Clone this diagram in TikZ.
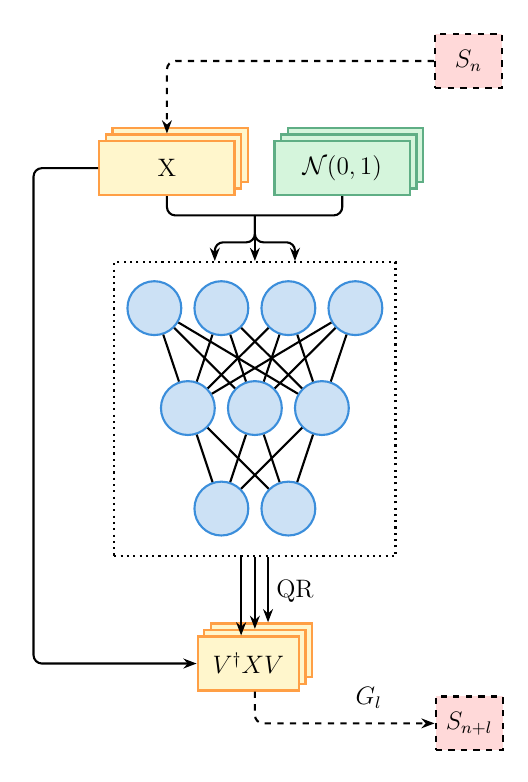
\documentclass[tikz,border=0pt,12pt]{standalone}
\usepackage{amsmath,amssymb}
\usepackage{xcolor}
\usepackage{tikz}
\usetikzlibrary{arrows.meta, positioning, calc, shadows}

\definecolor{matfill}{HTML}{FFF6CC}
\definecolor{matline}{HTML}{FF9F45}
\definecolor{noisefill}{HTML}{D5F5DC}
\definecolor{noiseline}{HTML}{5FAE85}
\definecolor{statefill}{HTML}{FFD9D9}
\definecolor{neuronfill}{HTML}{CCE1F5}
\definecolor{neuronline}{HTML}{3B8EDB}

\begin{document}
\begin{tikzpicture}[
    mat/.style={draw=matline, fill=matfill, line width=1.1pt, rectangle, minimum width=2.26cm, minimum height=0.9cm, double copy shadow={shadow xshift=0.11cm, shadow yshift=0.11cm, line width=1.1pt}},
    noise/.style={mat, draw=noiseline, fill=noisefill},
    state/.style={draw, dashed, line width=1pt, rectangle, fill=statefill, minimum width=1.12cm, minimum height=0.9cm},
    neuron/.style={circle, draw=neuronline, fill=neuronfill, line width=1pt, minimum size=0.9cm},
    edge/.style={line width=1pt},
    arr/.style={-{Stealth[length=2.2mm]}, line width=1pt},
    darr/.style={arr, dashed}
]
\useasboundingbox (0, 0) rectangle (8.81, -13.07);
\node[state] (Sn) at (7.83, -1.02) {$S_n$};
\node[mat] (X) at (2.79, -2.81) {X};
\node[noise] (N) at (5.72, -2.81) {$\mathcal{N}(0,1)$};
\node[draw, dotted, line width=1pt, minimum width=4.70cm, minimum height=4.92cm] (net) at (4.26, -6.84) {};
% input layer
\node[neuron] (a1) at (2.58, -5.15) {};
\node[neuron] (a2) at (3.70, -5.15) {};
\node[neuron] (a3) at (4.82, -5.15) {};
\node[neuron] (a4) at (5.94, -5.15) {};
% hidden layer
\node[neuron] (b1) at (3.14, -6.82) {};
\node[neuron] (b2) at (4.26, -6.82) {};
\node[neuron] (b3) at (5.38, -6.82) {};
% output layer
\node[neuron] (c1) at (3.70, -8.50) {};
\node[neuron] (c2) at (4.82, -8.50) {};
\node[mat, minimum width=1.69cm] (V) at (4.15, -11.09) {$V^\dagger XV$};
\node[state] (Snl) at (7.84, -12.09) {$S_{n+l}$};
\coordinate (join) at (4.26, -3.60);
\coordinate (fork) at (4.26, -4.05);
\draw[edge] (a1) -- (b1);
\draw[edge] (a1) -- (b2);
\draw[edge] (a1) -- (b3);
\draw[edge] (a2) -- (b1);
\draw[edge] (a2) -- (b2);
\draw[edge] (a2) -- (b3);
\draw[edge] (a3) -- (b1);
\draw[edge] (a3) -- (b2);
\draw[edge] (a3) -- (b3);
\draw[edge] (a4) -- (b1);
\draw[edge] (a4) -- (b2);
\draw[edge] (a4) -- (b3);
\draw[edge] (b1) -- (c1);
\draw[edge] (b1) -- (c2);
\draw[edge] (b2) -- (c1);
\draw[edge] (b2) -- (c2);
\draw[edge] (b3) -- (c1);
\draw[edge] (b3) -- (c2);
\draw[darr, rounded corners=4pt] (Sn.west) -| ([yshift=0.11cm]X.north);
\draw[edge, rounded corners=4pt] (X.south) |- (join);
\draw[edge, rounded corners=4pt] (N.south) |- (join);
\draw[arr] (join) -- (net.north);
\draw[arr, rounded corners=4pt] (join) -- (fork) -| ([xshift=-0.67cm]net.north);
\draw[arr, rounded corners=4pt] (join) -- (fork) -| ([xshift=0.67cm]net.north);
\draw[arr, rounded corners=4pt] (X.west) -- ++(-1.08, 0) |- (V.west);
\draw[arr] ([xshift=-0.23cm]net.south) -- ([xshift=-0.23cm]net.south |- V.north);
\draw[arr] (net.south) -- ([yshift=0.11cm]net.south |- V.north);
\draw[arr] ([xshift=0.22cm]net.south) -- ([xshift=0.22cm, yshift=0.22cm]net.south |- V.north);
\node at (4.93, -9.88) {QR};
\draw[darr, rounded corners=4pt] ([xshift=0.11cm]V.south) |- (Snl.west);
\node at (6.16, -11.67) {$G_l$};
\end{tikzpicture}
\end{document}
